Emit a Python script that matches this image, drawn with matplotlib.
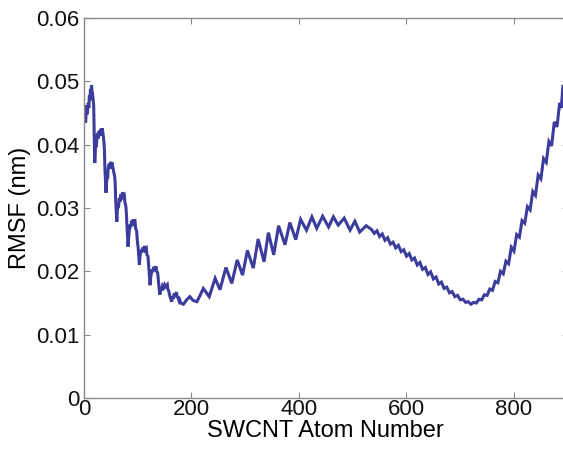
import matplotlib
matplotlib.use("Agg")
import matplotlib.pyplot as plt

plt.rcParams['font.family'] = ['Liberation Sans', 'DejaVu Sans']

# RMSF of each SWCNT atom (atom index, RMSF in nm)
atom = [
    1, 2, 3, 4, 5, 6, 8, 9, 10, 11, 12, 13, 14, 15, 16, 17, 18, 19,
    20, 21, 22, 23, 24, 26, 27, 28, 30, 31, 33, 34, 36, 37, 38, 39,
    41, 42, 43, 44, 45, 47, 48, 50, 51, 52, 54, 55, 57, 58, 59,
    61, 62, 63, 64, 66, 67, 69, 70, 72, 73, 75, 76, 78, 79, 80,
    82, 83, 84, 86, 87, 89, 90, 92, 93, 95, 96, 98, 99, 101,
    103, 104, 105, 107, 108, 110, 111, 113, 114, 116, 117, 119, 120, 121,
    123, 124, 125, 127, 128, 130, 131, 134, 135, 137, 138, 139,
    141, 143, 144, 146, 148, 150, 152, 155, 156, 158, 160, 161,
    163, 165, 166, 168, 169, 172, 173, 175, 177, 178, 180,
    185, 191, 197, 203, 210, 216, 222, 233, 244, 253, 264, 275, 285,
    295, 304, 315, 324, 335, 343, 353, 362, 374, 383,
    394, 403, 414, 424, 433, 444, 455, 464, 473, 484,
    495, 504, 513, 525,
    535, 540, 545, 550, 555, 560, 565, 570, 575, 580,
    585, 590, 595, 600, 605, 610, 615, 620, 625, 630,
    635, 640, 645, 650, 655, 660, 665, 670, 675, 680,
    685, 690, 695, 700, 705, 710, 715, 720, 725, 730,
    735, 740, 745, 750, 755, 760, 765, 770, 775, 780,
    785, 790, 795, 800, 805, 810, 815, 820, 825, 830,
    835, 840, 845, 850, 855, 860, 865, 870, 875, 880,
    885, 888, 891,
]
rmsf = [
    0.0445, 0.0462, 0.0435, 0.0452, 0.0458, 0.0448, 0.0466, 0.0458, 0.0478, 0.0470, 0.0488, 0.0480, 0.0494, 0.0484, 0.0480, 0.0470, 0.0462, 0.0420,
    0.0371, 0.0392, 0.0402, 0.0396, 0.0412, 0.0418, 0.0410, 0.0422, 0.0414, 0.0425, 0.0418, 0.0426, 0.0413, 0.0405, 0.0392, 0.0360,
    0.0324, 0.0340, 0.0350, 0.0346, 0.0362, 0.0370, 0.0362, 0.0373, 0.0366, 0.0372, 0.0362, 0.0358, 0.0350, 0.0340, 0.0312,
    0.0278, 0.0296, 0.0304, 0.0300, 0.0316, 0.0310, 0.0322, 0.0316, 0.0325, 0.0318, 0.0320, 0.0310, 0.0302, 0.0290, 0.0270,
    0.0239, 0.0252, 0.0262, 0.0274, 0.0270, 0.0280, 0.0274, 0.0282, 0.0276, 0.0278, 0.0268, 0.0264, 0.0250, 0.0235,
    0.0210, 0.0222, 0.0228, 0.0234, 0.0230, 0.0238, 0.0233, 0.0240, 0.0234, 0.0236, 0.0226, 0.0224, 0.0212, 0.0200,
    0.0178, 0.0190, 0.0195, 0.0203, 0.0199, 0.0207, 0.0202, 0.0208, 0.0200, 0.0198, 0.0188, 0.0180,
    0.0163, 0.0172, 0.0170, 0.0177, 0.0174, 0.0179, 0.0176, 0.0179, 0.0172, 0.0168, 0.0160, 0.0158,
    0.0152, 0.0160, 0.0158, 0.0165, 0.0162, 0.0167, 0.0161, 0.0158, 0.0153, 0.0155, 0.0150,
    0.0148, 0.0155, 0.0160, 0.0154, 0.0152, 0.0162, 0.0173, 0.0160, 0.0189, 0.0171, 0.0206, 0.0181, 0.0218,
    0.0194, 0.0233, 0.0205, 0.0251, 0.0215, 0.0261, 0.0226, 0.0272, 0.0242, 0.0277,
    0.0250, 0.0282, 0.0265, 0.0286, 0.0268, 0.0287, 0.0270, 0.0286, 0.0273, 0.0284,
    0.0265, 0.0279, 0.0262, 0.0272,
    0.0266, 0.0260, 0.0264, 0.0255, 0.0259, 0.0249, 0.0253, 0.0243, 0.0246, 0.0237,
    0.0241, 0.0231, 0.0234, 0.0224, 0.0228, 0.0218, 0.0221, 0.0210, 0.0214, 0.0203,
    0.0206, 0.0195, 0.0199, 0.0188, 0.0191, 0.0180, 0.0183, 0.0173, 0.0175, 0.0166,
    0.0168, 0.0160, 0.0162, 0.0155, 0.0156, 0.0151, 0.0152, 0.0148, 0.0151, 0.0150,
    0.0156, 0.0155, 0.0163, 0.0162, 0.0172, 0.0170, 0.0184, 0.0182, 0.0200, 0.0196,
    0.0216, 0.0212, 0.0238, 0.0232, 0.0258, 0.0254, 0.0280, 0.0276, 0.0302, 0.0297,
    0.0326, 0.0320, 0.0352, 0.0346, 0.0378, 0.0372, 0.0405, 0.0398, 0.0436, 0.0428,
    0.0466, 0.0458, 0.0492,
]

xticks = [0, 200, 400, 600, 800]
yticks = [0, 0.01, 0.02, 0.03, 0.04, 0.05, 0.06]
ytick_labels = ['0', '0.01', '0.02', '0.03', '0.04', '0.05', '0.06']

fig = plt.figure(figsize=(5.63, 4.5), dpi=100)
ax = fig.add_axes([0.1492, 0.1156, 0.8592, 0.8444])

ax.plot(atom, rmsf, color='#3c3c9c', lw=2.2, solid_joinstyle='miter')

ax.set_xlim(0, 900)
ax.set_ylim(0, 0.06)
ax.set_xticks(xticks)
ax.set_xticklabels([str(t) for t in xticks])
ax.set_yticks(yticks)
ax.set_yticklabels(ytick_labels)

for s in ax.spines.values():
    s.set_color('#8a8a8a')
    s.set_linewidth(1.0)
ax.tick_params(direction='in', length=4, width=0.8, color='#8a8a8a',
               labelsize=16, labelcolor='#111111', top=True, right=True)
ax.tick_params(axis='x', pad=1)
ax.tick_params(axis='y', pad=3)

ax.set_xlabel('SWCNT Atom Number', fontsize=17, labelpad=0)
ax.set_ylabel('RMSF (nm)', fontsize=17, labelpad=4)

fig.savefig('out.png', dpi=100)
